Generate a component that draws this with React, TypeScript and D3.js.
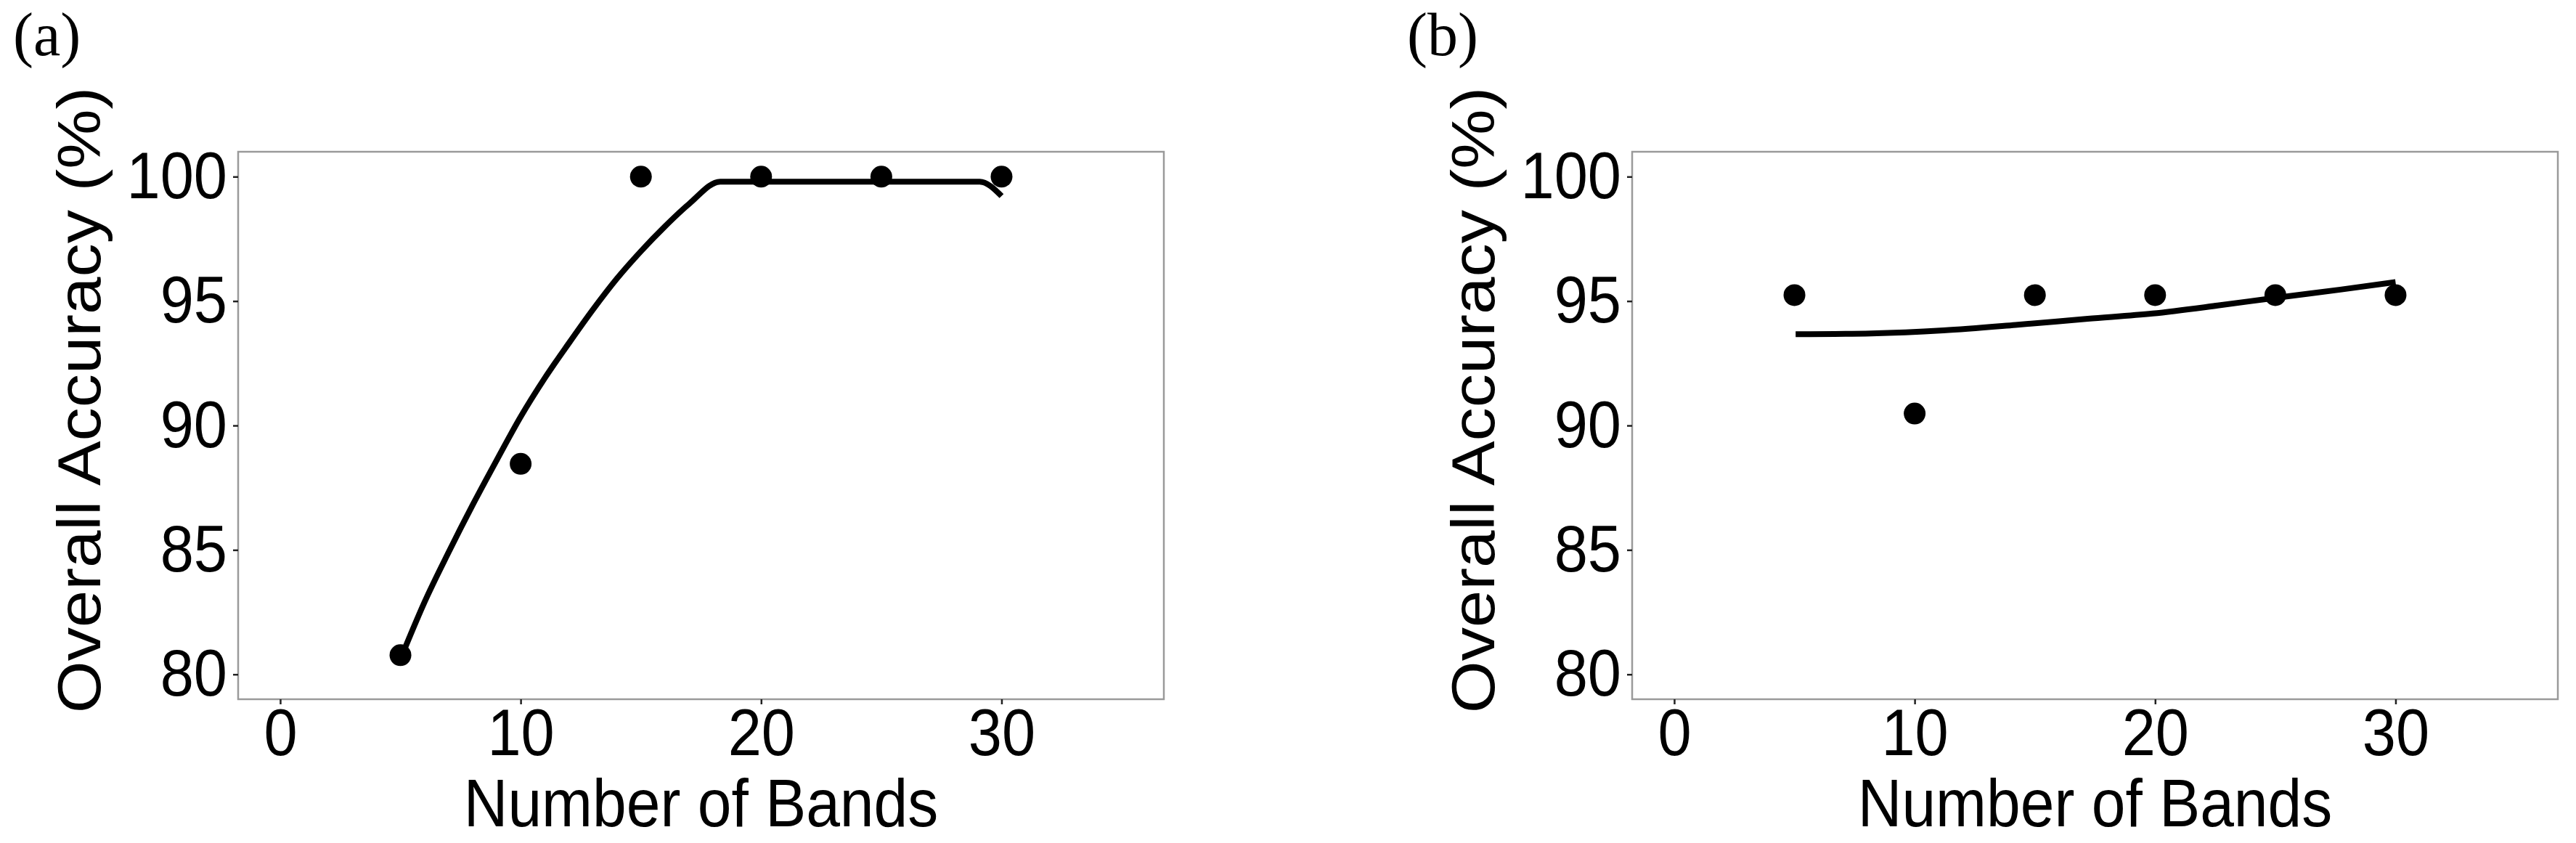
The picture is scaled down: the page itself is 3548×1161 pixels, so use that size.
import React, { useEffect, useRef } from 'react';
import * as d3 from 'd3';

// observed points
const bands = [5, 10, 15, 20, 25, 30];
const accuracyA = [80.77, 88.46, 100, 100, 100, 100];
const accuracyB = [95.24, 90.48, 95.24, 95.24, 95.24, 95.24];

// smoothed fit lines
const fitBandsA = [5.1, 6, 7, 8, 9, 10, 11, 12, 13, 14, 15, 16, 17, 18.3, 29.09, 30];
const fitA = [80.85, 82.9, 84.9, 86.8, 88.6, 90.35, 91.9, 93.3, 94.65, 95.9, 97.0, 98.0, 98.9, 99.8, 99.8, 99.22];
const fitBandsB = [5.05, 8.2, 11.2, 14.2, 17.2, 19.9, 22.6, 25.0, 27.7, 30];
const fitB = [93.67, 93.7, 93.82, 94.04, 94.29, 94.5, 94.82, 95.13, 95.46, 95.76];

const xTicks = [0, 10, 20, 30];
const yTicks = [80, 85, 90, 95, 100];
const panelLabels = ['(a)', '(b)'];

const W = 3548, H = 1161;
const SANS = '"Liberation Sans", Arial, sans-serif';
const STRETCH = 1.1; // text in the source image is a bit taller than wide

function App() {
    const ref = useRef(null);

    useEffect(() => {
        const svg = d3.select(ref.current);
        svg.selectAll('*').remove();

        const panels = [
            { label: panelLabels[0], pts: accuracyA, fx: fitBandsA, fy: fitA, left: 328 },
            { label: panelLabels[1], pts: accuracyB, fx: fitBandsB, fy: fitB, left: 2248 },
        ];
        const pw = 1275, top = 209, ph = 754;

        panels.forEach(p => {
            const x = d3.scaleLinear().domain([-1.75, 36.75]).range([p.left, p.left + pw]);
            const y = d3.scaleLinear().domain([79, 101]).range([top + ph, top]);

            // border
            svg.append('rect')
                .attr('x', p.left).attr('y', top)
                .attr('width', pw).attr('height', ph)
                .attr('fill', 'white')
                .attr('stroke', '#9a9a9a')
                .attr('stroke-width', 2.5);

            const gy = svg.append('g')
                .attr('transform', `translate(${p.left},0)`)
                .call(d3.axisLeft(y).tickValues(yTicks).tickSize(7).tickPadding(8));
            const gx = svg.append('g')
                .attr('transform', `translate(0,${top + ph})`)
                .call(d3.axisBottom(x).tickValues(xTicks).tickSize(7).tickPadding(4));
            [gx, gy].forEach(g => {
                g.select('.domain').remove();
                g.selectAll('line').attr('stroke', '#222').attr('stroke-width', 2.5);
                g.selectAll('text')
                    .attr('fill', 'black')
                    .attr('transform', `scale(1,${STRETCH})`)
                    .style('font-family', SANS)
                    .style('font-size', '83px');
            });

            // fit line
            const line = d3.line()
                .x((d, i) => x(p.fx[i]))
                .y(d => y(d))
                .curve(d3.curveMonotoneX);
            svg.append('path')
                .attr('d', line(p.fy))
                .attr('fill', 'none')
                .attr('stroke', 'black')
                .attr('stroke-width', 8);

            svg.append('g').selectAll('circle')
                .data(p.pts)
                .enter().append('circle')
                .attr('cx', (d, i) => x(bands[i]))
                .attr('cy', d => y(d))
                .attr('r', 15)
                .attr('fill', 'black');

            svg.append('text')
                .attr('transform', `translate(${p.left + pw / 2},1138) scale(1,${STRETCH})`)
                .attr('text-anchor', 'middle')
                .style('font-family', SANS)
                .style('font-size', '84px')
                .text('Number of Bands');

            svg.append('text')
                .attr('transform', `translate(${p.left - 190},551) scale(1,${STRETCH}) rotate(-90)`)
                .attr('text-anchor', 'middle')
                .style('font-family', SANS)
                .style('font-size', '84px')
                .text('Overall Accuracy (%)');

            svg.append('text')
                .attr('x', p.left - 310)
                .attr('y', 76)
                .style('font-family', '"Liberation Serif", "Times New Roman", serif')
                .style('font-size', '84px')
                .text(p.label);
        });
    }, []);

    return (
        <svg ref={ref} width={W} height={H}
            style={{ position: 'absolute', left: 0, top: 0, background: 'white' }}></svg>
    );
}

export default App;
